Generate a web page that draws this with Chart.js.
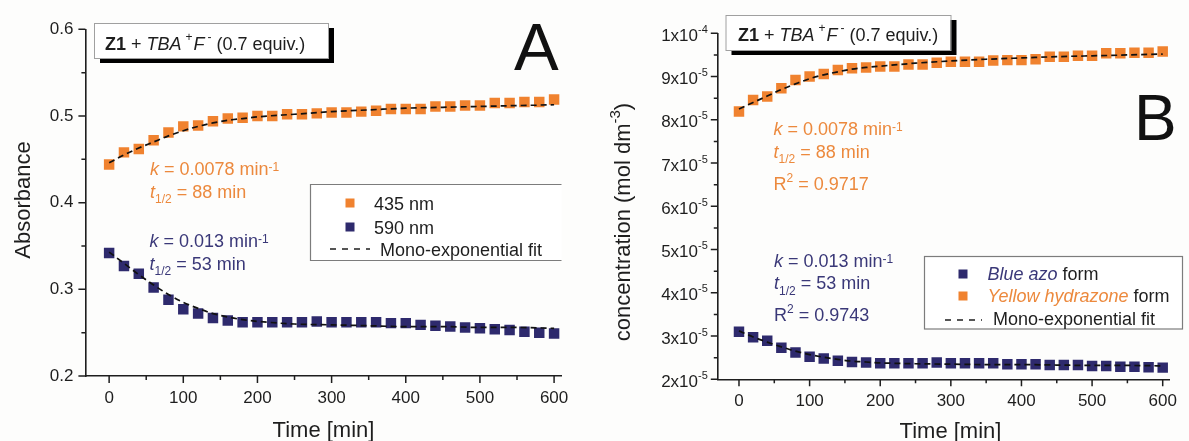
<!DOCTYPE html>
<html>
<head>
<meta charset="utf-8">
<script src="https://cdn.jsdelivr.net/npm/chart.js@4.4.1/dist/chart.umd.min.js"></script>
<style>
  html, body { margin: 0; padding: 0; background: #fdfdfc; }
  #wrap { position: relative; width: 1189px; height: 441px; overflow: hidden; }
  #chartA { position: absolute; left: 0; top: 0; }
  #chartB { position: absolute; left: 600px; top: 0; }
</style>
</head>
<body>
<div id="wrap">
  <canvas id="chartA" width="600" height="441"></canvas>
  <canvas id="chartB" width="589" height="441"></canvas>
</div>
<script>
// sampling times (min)
const timeMin = [0, 20, 40, 60, 80, 100, 120, 140, 160, 180, 200, 220, 240, 260, 280, 300,
                 320, 340, 360, 380, 400, 420, 440, 460, 480, 500, 520, 540, 560, 580, 600];

// panel A: absorbance at 435 nm and 590 nm
const abs435 = [0.444, 0.458, 0.462, 0.472, 0.481, 0.488, 0.489, 0.494, 0.497, 0.498, 0.500,
                0.500, 0.502, 0.502, 0.503, 0.504, 0.504, 0.505, 0.506, 0.508, 0.508, 0.508,
                0.511, 0.511, 0.512, 0.512, 0.515, 0.515, 0.516, 0.516, 0.519];
const abs590 = [0.342, 0.327, 0.318, 0.302, 0.288, 0.277, 0.272, 0.267, 0.264, 0.262, 0.262,
                0.262, 0.262, 0.262, 0.263, 0.262, 0.262, 0.262, 0.262, 0.261, 0.261, 0.259,
                0.258, 0.257, 0.256, 0.255, 0.254, 0.253, 0.251, 0.250, 0.249];

// fitted curves, read at these times
const fitTime = [0, 20, 40, 60, 80, 100, 120, 140, 160, 180, 200, 250, 300, 350, 400, 450, 500, 550, 600];
const fit435 = [0.446, 0.455, 0.463, 0.470, 0.477, 0.483, 0.488, 0.492, 0.495, 0.497, 0.499,
                0.502, 0.505, 0.507, 0.509, 0.510, 0.511, 0.512, 0.513];
const fit590 = [0.343, 0.330, 0.317, 0.305, 0.294, 0.285, 0.278, 0.272, 0.268, 0.265, 0.263,
                0.260, 0.259, 0.258, 0.257, 0.257, 0.256, 0.256, 0.255];

// panel B: concentrations (mol dm-3)
const concYellow = [8.19e-5, 8.46e-5, 8.54e-5, 8.73e-5, 8.92e-5, 9.00e-5, 9.06e-5, 9.15e-5,
                    9.19e-5, 9.21e-5, 9.23e-5, 9.23e-5, 9.28e-5, 9.28e-5, 9.32e-5, 9.34e-5,
                    9.34e-5, 9.34e-5, 9.37e-5, 9.38e-5, 9.38e-5, 9.40e-5, 9.46e-5, 9.46e-5,
                    9.48e-5, 9.48e-5, 9.54e-5, 9.54e-5, 9.55e-5, 9.55e-5, 9.58e-5];
const concBlue = [3.10e-5, 2.97e-5, 2.89e-5, 2.73e-5, 2.62e-5, 2.52e-5, 2.48e-5, 2.43e-5,
                  2.40e-5, 2.39e-5, 2.37e-5, 2.37e-5, 2.37e-5, 2.37e-5, 2.39e-5, 2.37e-5,
                  2.37e-5, 2.37e-5, 2.37e-5, 2.35e-5, 2.35e-5, 2.35e-5, 2.33e-5, 2.33e-5,
                  2.33e-5, 2.31e-5, 2.31e-5, 2.29e-5, 2.29e-5, 2.28e-5, 2.27e-5];
const fitYellow = [8.25e-5, 8.40e-5, 8.55e-5, 8.70e-5, 8.83e-5, 8.95e-5, 9.04e-5, 9.11e-5, 9.17e-5,
                   9.21e-5, 9.24e-5, 9.31e-5, 9.36e-5, 9.40e-5, 9.43e-5, 9.46e-5, 9.48e-5, 9.50e-5, 9.52e-5];
const fitBlue = [3.12e-5, 2.98e-5, 2.86e-5, 2.75e-5, 2.65e-5, 2.57e-5, 2.51e-5, 2.46e-5, 2.42e-5,
                 2.40e-5, 2.38e-5, 2.36e-5, 2.35e-5, 2.34e-5, 2.34e-5, 2.33e-5, 2.32e-5, 2.32e-5, 2.31e-5];

// ticks
const xMajor = [0, 100, 200, 300, 400, 500, 600];
const xMinor = [50, 150, 250, 350, 450, 550];
const aYMajor = [0.2, 0.3, 0.4, 0.5, 0.6];
const aYLabels = ['0.2', '0.3', '0.4', '0.5', '0.6'];
const aYMinor = [0.25, 0.35, 0.45, 0.55];
const bYMajor = [2e-5, 3e-5, 4e-5, 5e-5, 6e-5, 7e-5, 8e-5, 9e-5, 1e-4];
const bYMantissa = ['2x10', '3x10', '4x10', '5x10', '6x10', '7x10', '8x10', '9x10', '1x10'];
const bYExponent = ['-5', '-5', '-5', '-5', '-5', '-5', '-5', '-5', '-4'];
const bYMinor = [2.5e-5, 3.5e-5, 4.5e-5, 5.5e-5, 6.5e-5, 7.5e-5, 8.5e-5, 9.5e-5];

const FONT = '"Liberation Sans", Arial, sans-serif';
const ORANGE = '#f0822f';
const NAVY = '#2e2a6d';
const ORANGE_TXT = '#ec893d';
const NAVY_TXT = '#3a3878';
const INK = '#1e1e1e';

const pts = (xs, ys) => xs.map((x, i) => ({ x: x, y: ys[i] }));

// text with italic / bold / super- and subscript runs, y is the baseline
function rich(ctx, x, y, parts, size, align, color) {
  const small = Math.round(size * 0.66);
  const fontOf = p => (p.i ? 'italic ' : '') + (p.b ? 'bold ' : '') +
    ((p.sup || p.sub) ? small : size) + 'px ' + FONT;
  let total = 0;
  parts.forEach(p => { ctx.font = fontOf(p); p.w = ctx.measureText(p.t).width + (p.gap || 0); total += p.w; });
  let cx = align === 'right' ? x - total : align === 'center' ? x - total / 2 : x;
  ctx.textAlign = 'left';
  ctx.textBaseline = 'alphabetic';
  parts.forEach(p => {
    ctx.font = fontOf(p);
    ctx.fillStyle = p.c || color || INK;
    const dy = p.sup ? -(p.up !== undefined ? p.up : 0.42) * size : p.sub ? 0.33 * size : 0;
    ctx.fillText(p.t, cx + (p.gap || 0), y + dy);
    cx += p.w;
  });
}

function tickMarks(chart, yMajor, yMinor) {
  const { ctx, chartArea: a } = chart;
  const x = chart.scales.x, y = chart.scales.y;
  ctx.save();
  ctx.strokeStyle = INK;
  ctx.lineWidth = 1.5;
  ctx.beginPath();
  xMajor.forEach(v => { const p = x.getPixelForValue(v); ctx.moveTo(p, a.bottom); ctx.lineTo(p, a.bottom + 7); });
  xMinor.forEach(v => { const p = x.getPixelForValue(v); ctx.moveTo(p, a.bottom); ctx.lineTo(p, a.bottom + 4); });
  yMajor.forEach(v => { const p = y.getPixelForValue(v); ctx.moveTo(a.left, p); ctx.lineTo(a.left - 7, p); });
  yMinor.forEach(v => { const p = y.getPixelForValue(v); ctx.moveTo(a.left, p); ctx.lineTo(a.left - 4, p); });
  ctx.stroke();
  ctx.restore();
}

function titleBox(ctx, x, y, w, h, textX, baseline) {
  ctx.save();
  ctx.fillStyle = '#000';
  ctx.fillRect(x + 6, y + 5, w, h);
  ctx.fillStyle = '#fff';
  ctx.fillRect(x, y, w, h);
  ctx.strokeStyle = '#a0a0a0';
  ctx.lineWidth = 1;
  ctx.strokeRect(x + 0.5, y + 0.5, w, h);
  rich(ctx, textX, baseline, [
    { t: 'Z1', b: 1 }, { t: ' + ' }, { t: 'TBA', i: 1 }, { t: '+', sup: 1, gap: 4, up: 0.45 },
    { t: 'F', i: 1, gap: 1 }, { t: '-', sup: 1, gap: 3, up: 0.45 }, { t: ' (0.7 equiv.)' }
  ], 18, 'left');
  ctx.restore();
}

function rotatedTitle(ctx, x, y, parts, size) {
  ctx.save();
  ctx.translate(x, y);
  ctx.rotate(-Math.PI / 2);
  rich(ctx, 0, 0, parts, size, 'center');
  ctx.restore();
}

function dashSample(ctx, x1, x2, y) {
  ctx.save();
  ctx.strokeStyle = INK;
  ctx.lineWidth = 1.6;
  ctx.setLineDash([6, 6]);
  ctx.beginPath();
  ctx.moveTo(x1, y);
  ctx.lineTo(x2, y);
  ctx.stroke();
  ctx.restore();
}

function square(ctx, cx, cy, color) {
  ctx.fillStyle = color;
  ctx.fillRect(cx - 4.5, cy - 4.5, 9, 9);
}

const decorA = {
  id: 'decorA',
  afterDraw(chart) {
    const ctx = chart.ctx;
    tickMarks(chart, aYMajor, aYMinor);
    titleBox(ctx, 94, 23, 234, 35, 105, 49.5);

    ctx.save();
    ctx.font = '67px ' + FONT;
    ctx.fillStyle = '#111';
    ctx.textAlign = 'left';
    ctx.fillText('A', 514, 70);
    ctx.restore();

    rotatedTitle(ctx, 30, 200, [{ t: 'Absorbance' }], 22);
    rich(ctx, 323.5, 437, [{ t: 'Time [min]' }], 22, 'center');

    // fit parameters
    rich(ctx, 150, 175, [{ t: 'k', i: 1 }, { t: ' = 0.0078 min' }, { t: '-1', sup: 1, up: 0.2 }], 18, 'left', ORANGE_TXT);
    rich(ctx, 150, 197.5, [{ t: 't', i: 1 }, { t: '1/2', sub: 1 }, { t: ' = 88 min' }], 18, 'left', ORANGE_TXT);
    rich(ctx, 149.5, 247, [{ t: 'k', i: 1 }, { t: ' = 0.013 min' }, { t: '-1', sup: 1, up: 0.2 }], 18, 'left', NAVY_TXT);
    rich(ctx, 149.5, 269.5, [{ t: 't', i: 1 }, { t: '1/2', sub: 1 }, { t: ' = 53 min' }], 18, 'left', NAVY_TXT);

    // legend, open on the right
    ctx.save();
    ctx.fillStyle = '#fff';
    ctx.fillRect(310, 184, 251.5, 77);
    ctx.strokeStyle = '#7c7c7c';
    ctx.lineWidth = 1.2;
    ctx.beginPath();
    ctx.moveTo(561.5, 184.5); ctx.lineTo(310.5, 184.5); ctx.lineTo(310.5, 260.5); ctx.lineTo(561.5, 260.5);
    ctx.stroke();
    square(ctx, 350, 203, ORANGE);
    square(ctx, 350, 227, NAVY);
    dashSample(ctx, 330, 370, 249);
    ctx.restore();
    rich(ctx, 374, 209.5, [{ t: '435 nm' }], 18, 'left');
    rich(ctx, 374, 233.5, [{ t: '590 nm' }], 18, 'left');
    rich(ctx, 380, 255.5, [{ t: 'Mono-exponential fit' }], 18, 'left');
  }
};

const decorB = {
  id: 'decorB',
  afterDraw(chart) {
    const ctx = chart.ctx;
    const y = chart.scales.y;
    tickMarks(chart, bYMajor, bYMinor);
    bYMajor.forEach((v, i) => {
      const p = y.getPixelForValue(v);
      rich(ctx, chart.chartArea.left - 10, p + 7.5,
        [{ t: bYMantissa[i] }, { t: bYExponent[i], sup: 1, up: 0.47 }], 17, 'right');
    });
    titleBox(ctx, 125.5, 15, 225, 35, 138, 40.5);

    ctx.save();
    ctx.font = '64px ' + FONT;
    ctx.fillStyle = '#111';
    ctx.textAlign = 'left';
    ctx.fillText('B', 534, 139.5);
    ctx.restore();

    rotatedTitle(ctx, 30, 222, [{ t: 'concentration (mol dm' }, { t: '-3', sup: 1, up: 0.45 }, { t: ')' }], 22);
    rich(ctx, 350.5, 438, [{ t: 'Time [min]' }], 22, 'center');

    rich(ctx, 173.5, 135, [{ t: 'k', i: 1 }, { t: ' = 0.0078 min' }, { t: '-1', sup: 1, up: 0.2 }], 18, 'left', ORANGE_TXT);
    rich(ctx, 173.5, 157.5, [{ t: 't', i: 1 }, { t: '1/2', sub: 1 }, { t: ' = 88 min' }], 18, 'left', ORANGE_TXT);
    rich(ctx, 173.5, 189.5, [{ t: 'R' }, { t: '2', sup: 1, up: 0.42 }, { t: ' = 0.9717' }], 18, 'left', ORANGE_TXT);
    rich(ctx, 174, 266.5, [{ t: 'k', i: 1 }, { t: ' = 0.013 min' }, { t: '-1', sup: 1, up: 0.2 }], 18, 'left', NAVY_TXT);
    rich(ctx, 174, 289, [{ t: 't', i: 1 }, { t: '1/2', sub: 1 }, { t: ' = 53 min' }], 18, 'left', NAVY_TXT);
    rich(ctx, 174, 321, [{ t: 'R' }, { t: '2', sup: 1, up: 0.42 }, { t: ' = 0.9743' }], 18, 'left', NAVY_TXT);

    ctx.save();
    ctx.fillStyle = '#fff';
    ctx.fillRect(324.5, 256, 258.5, 73);
    ctx.strokeStyle = '#7c7c7c';
    ctx.lineWidth = 1.2;
    ctx.strokeRect(324.5, 256.5, 258, 72.5);
    square(ctx, 363, 274, NAVY);
    square(ctx, 363, 296, ORANGE);
    dashSample(ctx, 345, 382, 320);
    ctx.restore();
    rich(ctx, 387.5, 280, [{ t: 'Blue azo', i: 1, c: NAVY_TXT }, { t: ' form' }], 18, 'left');
    rich(ctx, 387.5, 302, [{ t: 'Yellow hydrazone', i: 1, c: ORANGE_TXT }, { t: ' form' }], 18, 'left');
    rich(ctx, 393, 325, [{ t: 'Mono-exponential fit' }], 18, 'left');
  }
};

function fitSet(data) {
  return {
    type: 'line', data: data, showLine: true, borderColor: '#111', borderWidth: 1.7,
    borderDash: [6, 4], pointRadius: 0, fill: false, cubicInterpolationMode: 'monotone'
  };
}
function markerSet(data, color) {
  return {
    type: 'scatter', data: data, showLine: false, pointStyle: 'rect', pointRadius: 7.4,
    pointBorderWidth: 0, backgroundColor: color, borderColor: color
  };
}

function baseOptions(xMin, yMin, yMax, yWidth, xHeight, pad, yTicks) {
  return {
    responsive: false,
    animation: false,
    events: [],
    devicePixelRatio: 1,
    layout: { padding: pad },
    plugins: { legend: { display: false }, tooltip: { enabled: false } },
    scales: {
      x: {
        type: 'linear', min: xMin, max: 610,
        grid: { display: false, drawTicks: false },
        border: { display: true, color: INK, width: 1.6 },
        ticks: { stepSize: 100, includeBounds: false, padding: 12, color: INK,
                 font: { family: FONT, size: 17 } },
        afterFit: s => { s.height = xHeight; }
      },
      y: {
        type: 'linear', min: yMin, max: yMax,
        grid: { display: false, drawTicks: false },
        border: { display: true, color: INK, width: 1.6 },
        ticks: yTicks,
        afterFit: s => { s.width = yWidth; }
      }
    }
  };
}

new Chart(document.getElementById('chartA'), {
  type: 'scatter',
  data: {
    datasets: [
      fitSet(pts(fitTime, fit435)),
      fitSet(pts(fitTime, fit590)),
      markerSet(pts(timeMin, abs435), ORANGE),
      markerSet(pts(timeMin, abs590), NAVY)
    ]
  },
  options: baseOptions(-32, 0.2, 0.6, 85.4, 65,
    { left: 0, top: 29.3, right: 38.5, bottom: 0 },
    { stepSize: 0.1, padding: 12, color: INK, font: { family: FONT, size: 17 },
      callback: v => { const i = aYMajor.findIndex(t => Math.abs(t - v) < 1e-6); return i < 0 ? '' : aYLabels[i]; } }),
  plugins: [decorA]
});

new Chart(document.getElementById('chartB'), {
  type: 'scatter',
  data: {
    datasets: [
      fitSet(pts(fitTime, fitYellow)),
      fitSet(pts(fitTime, fitBlue)),
      markerSet(pts(timeMin, concYellow), ORANGE),
      markerSet(pts(timeMin, concBlue), NAVY)
    ]
  },
  options: baseOptions(-30, 2e-5, 1e-4, 117.8, 61.7,
    { left: 0, top: 33.3, right: 6, bottom: 0 },
    { display: false }),
  plugins: [decorB]
});
</script>
</body>
</html>
